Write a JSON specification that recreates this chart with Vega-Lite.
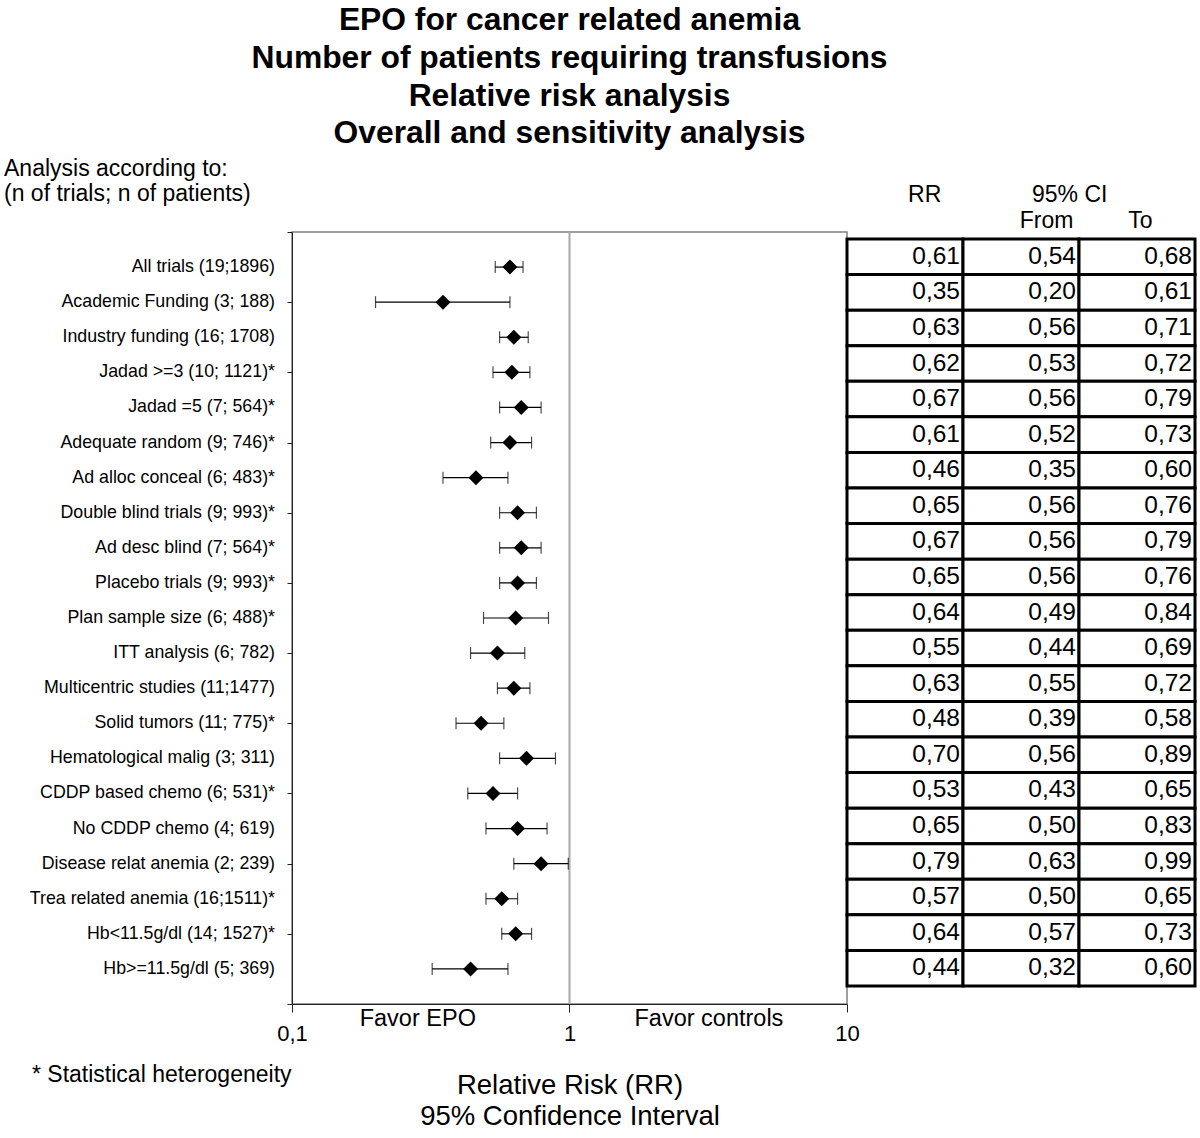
{
  "$schema": "https://vega.github.io/schema/vega-lite/v6.json",
  "width": 555,
  "height": 772,
  "padding": {"left": 4, "top": 5, "right": 5, "bottom": 5},
  "background": "white",
  "config": {
    "locale": {"number": {"decimal": ",", "thousands": ".", "grouping": [3], "currency": ["", " €"]}},
    "font": "Liberation Sans",
    "view": {"stroke": "#808080", "strokeWidth": 1.5},
    "axis": {"grid": false, "domainColor": "#222222", "tickColor": "#222222", "labelColor": "black", "titleColor": "black", "labelFont": "Liberation Sans", "titleFont": "Liberation Sans"},
    "text": {"font": "Liberation Sans", "color": "black"}
  },
  "title": {
    "text": ["EPO for cancer related anemia", "Number of patients requiring transfusions", "Relative risk analysis", "Overall and sensitivity analysis"],
    "fontSize": 31.8,
    "fontWeight": "bold",
    "font": "Liberation Sans",
    "color": "black",
    "anchor": "middle",
    "frame": "group",
    "lineHeight": 37.7,
    "offset": 8
  },
  "datasets": {
    "rows": [
      {"row": 1, "label": "All trials (19;1896)", "rr": 0.61, "lo": 0.54, "hi": 0.68},
      {"row": 2, "label": "Academic Funding (3; 188)", "rr": 0.35, "lo": 0.20, "hi": 0.61},
      {"row": 3, "label": "Industry funding (16; 1708)", "rr": 0.63, "lo": 0.56, "hi": 0.71},
      {"row": 4, "label": "Jadad >=3 (10; 1121)*", "rr": 0.62, "lo": 0.53, "hi": 0.72},
      {"row": 5, "label": "Jadad =5 (7; 564)*", "rr": 0.67, "lo": 0.56, "hi": 0.79},
      {"row": 6, "label": "Adequate random (9; 746)*", "rr": 0.61, "lo": 0.52, "hi": 0.73},
      {"row": 7, "label": "Ad alloc conceal (6; 483)*", "rr": 0.46, "lo": 0.35, "hi": 0.60},
      {"row": 8, "label": "Double blind trials (9; 993)*", "rr": 0.65, "lo": 0.56, "hi": 0.76},
      {"row": 9, "label": "Ad desc blind (7; 564)*", "rr": 0.67, "lo": 0.56, "hi": 0.79},
      {"row": 10, "label": "Placebo trials (9; 993)*", "rr": 0.65, "lo": 0.56, "hi": 0.76},
      {"row": 11, "label": "Plan sample size (6; 488)*", "rr": 0.64, "lo": 0.49, "hi": 0.84},
      {"row": 12, "label": "ITT analysis (6; 782)", "rr": 0.55, "lo": 0.44, "hi": 0.69},
      {"row": 13, "label": "Multicentric studies (11;1477)", "rr": 0.63, "lo": 0.55, "hi": 0.72},
      {"row": 14, "label": "Solid tumors (11; 775)*", "rr": 0.48, "lo": 0.39, "hi": 0.58},
      {"row": 15, "label": "Hematological malig (3; 311)", "rr": 0.70, "lo": 0.56, "hi": 0.89},
      {"row": 16, "label": "CDDP based chemo (6; 531)*", "rr": 0.53, "lo": 0.43, "hi": 0.65},
      {"row": 17, "label": "No CDDP chemo (4; 619)", "rr": 0.65, "lo": 0.50, "hi": 0.83},
      {"row": 18, "label": "Disease relat anemia (2; 239)", "rr": 0.79, "lo": 0.63, "hi": 0.99},
      {"row": 19, "label": "Trea related anemia (16;1511)*", "rr": 0.57, "lo": 0.50, "hi": 0.65},
      {"row": 20, "label": "Hb<11.5g/dl (14; 1527)*", "rr": 0.64, "lo": 0.57, "hi": 0.73},
      {"row": 21, "label": "Hb>=11.5g/dl (5; 369)", "rr": 0.44, "lo": 0.32, "hi": 0.60}
    ]
  },
  "data": {"name": "rows"},
  "layer": [
    {
      "layer": [
        {
          "data": {"values": [{}]},
          "mark": {"type": "rule", "color": "#a8a8a8", "strokeWidth": 2},
          "encoding": {
            "x": {
              "datum": 1,
              "type": "quantitative",
              "scale": {"type": "log", "domain": [0.1, 10], "nice": false},
              "axis": {
                "values": [0.1, 1, 10],
                "format": "~g",
                "labelFontSize": 22,
                "labelFlush": false,
                "labelOverlap": false,
                "tickSize": 8,
                "labelPadding": 11,
                "title": ["Relative Risk (RR)", "95% Confidence Interval"],
                "titleFontSize": 27.5,
                "titleFontWeight": "normal",
                "titleLineHeight": 31,
                "titlePadding": 27
              }
            }
          }
        },
        {
          "mark": {"type": "rule", "color": "black", "strokeWidth": 1.2},
          "encoding": {
            "x": {"field": "lo", "type": "quantitative"},
            "x2": {"field": "hi"},
            "y": {
              "field": "row",
              "type": "quantitative",
              "scale": {"domain": [0, 22], "reverse": true, "nice": false, "zero": false},
              "axis": {"values": [0, 1, 2, 3, 4, 5, 6, 7, 8, 9, 10, 11, 12, 13, 14, 15, 16, 17, 18, 19, 20, 21, 22], "labels": false, "title": null, "tickSize": 5}
            }
          }
        },
        {
          "mark": {"type": "tick", "orient": "vertical", "color": "black", "thickness": 1.2, "size": 12},
          "encoding": {
            "x": {"field": "lo", "type": "quantitative"},
            "y": {"field": "row", "type": "quantitative"}
          }
        },
        {
          "mark": {"type": "tick", "orient": "vertical", "color": "black", "thickness": 1.2, "size": 12},
          "encoding": {
            "x": {"field": "hi", "type": "quantitative"},
            "y": {"field": "row", "type": "quantitative"}
          }
        },
        {
          "mark": {"type": "point", "shape": "diamond", "filled": true, "color": "black", "size": 225, "opacity": 1},
          "encoding": {
            "x": {"field": "rr", "type": "quantitative"},
            "y": {"field": "row", "type": "quantitative"}
          }
        },
        {
          "mark": {"type": "text", "align": "right", "baseline": "middle", "fontSize": 17.8, "dx": -17},
          "encoding": {
            "x": {"datum": 0.1, "type": "quantitative"},
            "y": {"field": "row", "type": "quantitative"},
            "text": {"field": "label", "type": "nominal"}
          }
        },
        {
          "data": {"values": [{}]},
          "mark": {"type": "text", "align": "center", "baseline": "middle", "fontSize": 23.5},
          "encoding": {
            "x": {"datum": 0.284, "type": "quantitative"},
            "y": {"datum": 22.43, "type": "quantitative"},
            "text": {"value": "Favor EPO"}
          }
        },
        {
          "data": {"values": [{}]},
          "mark": {"type": "text", "align": "center", "baseline": "middle", "fontSize": 23.5},
          "encoding": {
            "x": {"datum": 3.18, "type": "quantitative"},
            "y": {"datum": 22.43, "type": "quantitative"},
            "text": {"value": "Favor controls"}
          }
        },
        {
          "data": {"values": [{}]},
          "mark": {"type": "text", "align": "left", "baseline": "middle", "fontSize": 23, "dx": -260},
          "encoding": {
            "x": {"datum": 0.1, "type": "quantitative"},
            "y": {"datum": 24.02, "type": "quantitative"},
            "text": {"value": "* Statistical heterogeneity"}
          }
        },
        {
          "data": {"values": [{}]},
          "mark": {"type": "text", "align": "left", "baseline": "middle", "fontSize": 23, "dx": -288, "lineHeight": 25},
          "encoding": {
            "x": {"datum": 0.1, "type": "quantitative"},
            "y": {"datum": -1.795, "type": "quantitative"},
            "text": {"value": ["Analysis according to:", "(n of trials; n of patients)"]}
          }
        }
      ]
    },
    {
      "layer": [
        {
          "mark": {"type": "rect", "fill": "white", "stroke": "black", "strokeWidth": 3},
          "encoding": {
            "x": {"datum": 0, "type": "quantitative", "scale": {"domain": [0, 3], "range": [555, 903], "nice": false, "zero": false}, "axis": null},
            "x2": {"datum": 1},
            "y": {"field": "label", "type": "nominal", "sort": null, "scale": {"type": "band", "range": [7, 754], "paddingInner": 0, "paddingOuter": 0}, "axis": null}
          }
        },
        {
          "mark": {"type": "rect", "fill": "white", "stroke": "black", "strokeWidth": 3},
          "encoding": {
            "x": {"datum": 1, "type": "quantitative"},
            "x2": {"datum": 2},
            "y": {"field": "label", "type": "nominal", "sort": null}
          }
        },
        {
          "mark": {"type": "rect", "fill": "white", "stroke": "black", "strokeWidth": 3},
          "encoding": {
            "x": {"datum": 2, "type": "quantitative"},
            "x2": {"datum": 3},
            "y": {"field": "label", "type": "nominal", "sort": null}
          }
        },
        {
          "mark": {"type": "text", "align": "right", "baseline": "middle", "fontSize": 24.5, "dx": -3},
          "encoding": {
            "x": {"datum": 1, "type": "quantitative"},
            "y": {"field": "label", "type": "nominal", "sort": null},
            "text": {"field": "rr", "type": "quantitative", "format": ".2f"}
          }
        },
        {
          "mark": {"type": "text", "align": "right", "baseline": "middle", "fontSize": 24.5, "dx": -3},
          "encoding": {
            "x": {"datum": 2, "type": "quantitative"},
            "y": {"field": "label", "type": "nominal", "sort": null},
            "text": {"field": "lo", "type": "quantitative", "format": ".2f"}
          }
        },
        {
          "mark": {"type": "text", "align": "right", "baseline": "middle", "fontSize": 24.5, "dx": -3},
          "encoding": {
            "x": {"datum": 3, "type": "quantitative"},
            "y": {"field": "label", "type": "nominal", "sort": null},
            "text": {"field": "hi", "type": "quantitative", "format": ".2f"}
          }
        },
        {
          "data": {"values": [{}]},
          "mark": {"type": "text", "align": "center", "baseline": "middle", "fontSize": 23, "dy": -62},
          "encoding": {
            "x": {"datum": 0.67, "type": "quantitative"},
            "y": {"datum": "All trials (19;1896)", "type": "nominal"},
            "text": {"value": "RR"}
          }
        },
        {
          "data": {"values": [{}]},
          "mark": {"type": "text", "align": "center", "baseline": "middle", "fontSize": 23, "dy": -62},
          "encoding": {
            "x": {"datum": 1.92, "type": "quantitative"},
            "y": {"datum": "All trials (19;1896)", "type": "nominal"},
            "text": {"value": "95% CI"}
          }
        },
        {
          "data": {"values": [{}]},
          "mark": {"type": "text", "align": "center", "baseline": "middle", "fontSize": 23, "dy": -36},
          "encoding": {
            "x": {"datum": 1.72, "type": "quantitative"},
            "y": {"datum": "All trials (19;1896)", "type": "nominal"},
            "text": {"value": "From"}
          }
        },
        {
          "data": {"values": [{}]},
          "mark": {"type": "text", "align": "center", "baseline": "middle", "fontSize": 23, "dy": -36},
          "encoding": {
            "x": {"datum": 2.53, "type": "quantitative"},
            "y": {"datum": "All trials (19;1896)", "type": "nominal"},
            "text": {"value": "To"}
          }
        }
      ]
    }
  ],
  "resolve": {"scale": {"x": "independent", "y": "independent"}}
}
